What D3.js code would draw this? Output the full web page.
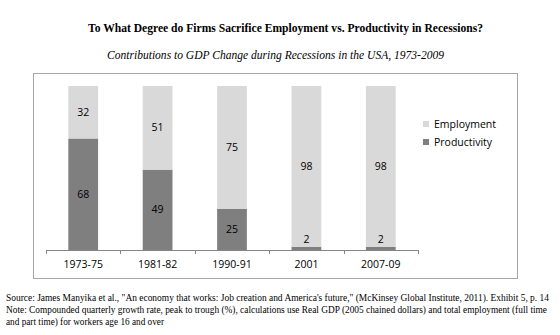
<!DOCTYPE html>
<html>
<head>
<meta charset="utf-8">
<script src="https://cdn.jsdelivr.net/npm/d3@7"></script>
<style>
  body { margin: 0; background: #fff; }
  svg { display: block; }
</style>
</head>
<body>
<svg id="chart"></svg>
<script>
// data
var categories = ["1973-75", "1981-82", "1990-91", "2001", "2007-09"];
var productivity = [68, 49, 25, 2, 2];
var employment = [32, 51, 75, 98, 98];
var seriesNames = ["Employment", "Productivity"];

var colors = { Employment: "#d9d9d9", Productivity: "#7f7f7f" };

var svg = d3.select("#chart").attr("width", 560).attr("height", 335);

// titles
svg.append("text")
  .attr("x", 88).attr("y", 32)
  .attr("font-family", "Liberation Serif, Times New Roman, serif")
  .attr("font-weight", "bold").attr("font-size", 12.5)
  .attr("textLength", 395).attr("lengthAdjust", "spacingAndGlyphs")
  .text("To What Degree do Firms Sacrifice Employment vs. Productivity in Recessions?");

svg.append("text")
  .attr("x", 107).attr("y", 59)
  .attr("font-family", "Liberation Serif, Times New Roman, serif")
  .attr("font-style", "italic").attr("font-size", 12.5)
  .attr("textLength", 337).attr("lengthAdjust", "spacingAndGlyphs")
  .text("Contributions to GDP Change during Recessions in the USA, 1973-2009");

// chart frame
svg.append("rect")
  .attr("x", 33.5).attr("y", 73.5)
  .attr("width", 484).attr("height", 205)
  .attr("fill", "#fff").attr("stroke", "#a6a6a6").attr("stroke-width", 1);

var x = d3.scaleBand().domain(categories).range([46, 418]).paddingInner(0.6).paddingOuter(0.3);
var y = d3.scaleLinear().domain([0, 100]).range([250, 86]);

var rows = categories.map(function (c, i) {
  return { cat: c, Productivity: productivity[i], Employment: employment[i] };
});
var stacked = d3.stack().keys(["Productivity", "Employment"])(rows);

var layers = svg.selectAll("g.layer").data(stacked).enter().append("g")
  .attr("class", "layer")
  .attr("fill", function (d) { return colors[d.key]; });

layers.selectAll("rect").data(function (d) { return d; }).enter().append("rect")
  .attr("x", function (d) { return x(d.data.cat); })
  .attr("width", x.bandwidth())
  .attr("y", function (d) { return y(d[1]); })
  .attr("height", function (d) { return y(d[0]) - y(d[1]); });

// data labels, drawn after all bars so small ones stay visible
var labelLayers = svg.selectAll("g.labels").data(stacked).enter().append("g")
  .attr("class", "labels");

labelLayers.selectAll("text").data(function (d) { return d; }).enter().append("text")
  .attr("x", function (d) { return x(d.data.cat) + x.bandwidth() / 2; })
  .attr("y", function (d) {
    var top = y(d[1]), bot = y(d[0]);
    if (bot - top < 14) return top - 7;
    return (top + bot) / 2;
  })
  .attr("dy", "0.35em")
  .attr("text-anchor", "middle")
  .attr("fill", "#000")
  .attr("font-family", "Open Sans, sans-serif").attr("font-size", 10.5)
  .text(function (d) { return d[1] - d[0]; });

// x axis
var xAxis = svg.append("g").attr("transform", "translate(0,250)");
xAxis.append("line")
  .attr("x1", 46).attr("x2", 418).attr("y1", 0.5).attr("y2", 0.5)
  .attr("stroke", "#868686");
var tickPos = d3.range(categories.length + 1).map(function (i) { return 46 + i * x.step(); });
xAxis.selectAll("line.tick").data(tickPos).enter().append("line")
  .attr("class", "tick")
  .attr("x1", function (d) { return Math.round(d) + 0.5; })
  .attr("x2", function (d) { return Math.round(d) + 0.5; })
  .attr("y1", 0).attr("y2", 4)
  .attr("stroke", "#868686");
xAxis.selectAll("text").data(categories).enter().append("text")
  .attr("x", function (d) { return x(d) + x.bandwidth() / 2; })
  .attr("y", 14).attr("dy", "0.35em")
  .attr("text-anchor", "middle")
  .attr("font-family", "Open Sans, sans-serif").attr("font-size", 10.5)
  .attr("fill", "#000")
  .text(function (d) { return d; });

// legend
var legend = svg.selectAll("g.legend").data(seriesNames).enter().append("g")
  .attr("class", "legend")
  .attr("transform", function (d, i) { return "translate(423," + (124 + i * 18) + ")"; });
legend.append("rect")
  .attr("x", 0).attr("y", -3).attr("width", 6).attr("height", 6)
  .attr("fill", function (d) { return colors[d]; });
legend.append("text")
  .attr("x", 11).attr("y", 0).attr("dy", "0.35em")
  .attr("font-family", "Open Sans, sans-serif").attr("font-size", 10.5)
  .attr("fill", "#000")
  .text(function (d) { return d; });

// footer notes
var notes = [
  { t: "Source: James Manyika et al., \"An economy that works: Job creation and America's future,\" (McKinsey Global Institute, 2011). Exhibit 5, p. 14", w: 543 },
  { t: "Note: Compounded quarterly growth rate, peak to trough (%), calculations use Real GDP (2005 chained dollars) and total employment (full time", w: 541 },
  { t: "and part time) for workers age 16 and over", w: 158 }
];
svg.selectAll("text.note").data(notes).enter().append("text")
  .attr("class", "note")
  .attr("x", 6).attr("y", function (d, i) { return 298 + i * 12; })
  .attr("dy", "0.35em")
  .attr("font-family", "Liberation Serif, Times New Roman, serif").attr("font-size", 9.3)
  .attr("textLength", function (d) { return d.w; })
  .attr("lengthAdjust", "spacingAndGlyphs")
  .text(function (d) { return d.t; });
</script>
</body>
</html>
